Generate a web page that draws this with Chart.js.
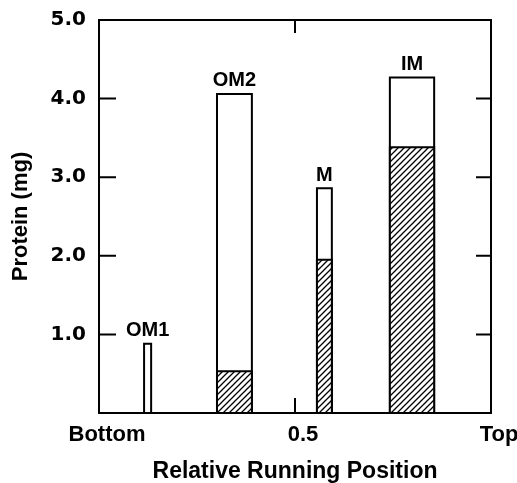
<!DOCTYPE html>
<html>
<head>
  <title>Protein vs Relative Running Position</title>
  <script src="https://cdn.jsdelivr.net/npm/chart.js"></script>
  <style>
    body { margin: 0; background: #fff; }
  </style>
</head>
<body>
  <canvas id="myChart" width="517" height="483"></canvas>

  <script>
    // Fractions along the gradient (bar labels)
    const fractions = ['OM1', 'OM2', 'M', 'IM'];
    // Bar edges on the relative running position axis (0 = bottom, 1 = top)
    const leftEdge = [0.115, 0.301, 0.556, 0.742];
    const rightEdge = [0.133, 0.390, 0.594, 0.855];
    // Total protein (mg) and the hatched part of each bar
    const totalProtein = [0.88, 4.06, 2.86, 4.27];
    const hatchedProtein = [0, 0.53, 1.95, 3.38];
    // Axis ticks
    const xTickValues = [0, 0.5, 1];
    const xTickLabels = ['Bottom', '0.5', 'Top'];
    const yTickValues = [1, 2, 3, 4, 5];

    const FONT = 'Liberation Sans';

    // Diagonal hatch pattern
    function makeHatch() {
      const s = 6;
      const c = document.createElement('canvas');
      c.width = s; c.height = s;
      const g = c.getContext('2d');
      g.fillStyle = '#fff';
      g.fillRect(0, 0, s, s);
      g.strokeStyle = '#000';
      g.lineWidth = 1.3;
      g.beginPath();
      g.moveTo(0, s); g.lineTo(s, 0);
      g.moveTo(-1, 1); g.lineTo(1, -1);
      g.moveTo(s - 1, s + 1); g.lineTo(s + 1, s - 1);
      g.stroke();
      return g.createPattern(c, 'repeat');
    }
    const hatch = makeHatch();

    // Build one closed outline per bar from the arrays
    function barOutline(i, value) {
      return [
        { x: leftEdge[i], y: 0 },
        { x: leftEdge[i], y: value },
        { x: rightEdge[i], y: value },
        { x: rightEdge[i], y: 0 }
      ];
    }

    const datasets = [];
    fractions.forEach((name, i) => {
      datasets.push({
        label: name,
        data: barOutline(i, totalProtein[i]),
        backgroundColor: '#fff',
        borderColor: '#000',
        borderWidth: 2,
        fill: 'origin',
        pointRadius: 0,
        tension: 0,
        order: 2
      });
      if (hatchedProtein[i] > 0) {
        datasets.push({
          label: name + ' hatched',
          data: barOutline(i, hatchedProtein[i]),
          backgroundColor: hatch,
          borderColor: '#000',
          borderWidth: 2,
          fill: 'origin',
          pointRadius: 0,
          tension: 0,
          order: 1
        });
      }
    });

    // Frame, inward tick marks and bar labels
    const framePlugin = {
      id: 'frame',
      afterDatasetsDraw(chart) {
        const { ctx, chartArea: a, scales: { x, y } } = chart;
        ctx.save();
        ctx.strokeStyle = '#000';
        ctx.lineWidth = 2;
        ctx.strokeRect(a.left, a.top, a.right - a.left, a.bottom - a.top);
        ctx.beginPath();
        yTickValues.forEach(v => {
          if (v >= 5) return;
          const py = y.getPixelForValue(v);
          ctx.moveTo(a.left, py); ctx.lineTo(a.left + 17, py);
          ctx.moveTo(a.right, py); ctx.lineTo(a.right - 15, py);
        });
        const px = x.getPixelForValue(0.5);
        ctx.moveTo(px, a.top); ctx.lineTo(px, a.top + 13);
        ctx.moveTo(px, a.bottom); ctx.lineTo(px, a.bottom - 15);
        ctx.stroke();

        ctx.fillStyle = '#000';
        ctx.font = 'bold 20px "' + FONT + '"';
        ctx.textAlign = 'center';
        ctx.textBaseline = 'bottom';
        fractions.forEach((name, i) => {
          const cx = x.getPixelForValue((leftEdge[i] + rightEdge[i]) / 2);
          const ty = y.getPixelForValue(totalProtein[i]);
          ctx.fillText(name, cx, ty - 3);
        });
        ctx.restore();
      }
    };

    const ctx = document.getElementById('myChart').getContext('2d');
    const myChart = new Chart(ctx, {
      type: 'line',
      data: { datasets: datasets },
      options: {
        responsive: false,
        animation: false,
        layout: { padding: { left: 0, right: 26, top: 20, bottom: 0 } },
        plugins: {
          legend: { display: false },
          tooltip: { enabled: false }
        },
        scales: {
          x: {
            type: 'linear',
            min: 0,
            max: 1,
            grid: { display: false },
            border: { display: false },
            afterBuildTicks: scale => {
              scale.ticks = xTickValues.map(v => ({ value: v }));
            },
            afterFit: scale => { scale.height = 70; },
            ticks: {
              color: '#000',
              padding: 1,
              labelOffset: 8,
              maxRotation: 0,
              font: { family: FONT, size: 22, weight: 'bold' },
              callback: (v) => xTickLabels[xTickValues.indexOf(v)]
            },
            title: {
              display: true,
              text: 'Relative Running Position',
              color: '#000',
              font: { family: FONT, size: 23, weight: 'bold', lineHeight: 1 },
              padding: { top: 0, bottom: 0 }
            }
          },
          y: {
            type: 'linear',
            min: 0,
            max: 5,
            grid: { display: false },
            border: { display: false },
            afterBuildTicks: scale => {
              scale.ticks = yTickValues.map(v => ({ value: v }));
            },
            afterFit: scale => { scale.width = 99; },
            ticks: {
              color: '#000',
              padding: 5,
              font: { family: 'DejaVu Sans', size: 20, weight: 'bold' },
              callback: v => v.toFixed(1)
            },
            title: {
              display: true,
              text: 'Protein (mg)',
              color: '#000',
              font: { family: FONT, size: 22, weight: 'bold' },
              padding: { top: 8, bottom: 4 }
            }
          }
        }
      },
      plugins: [framePlugin]
    });
  </script>
</body>
</html>
